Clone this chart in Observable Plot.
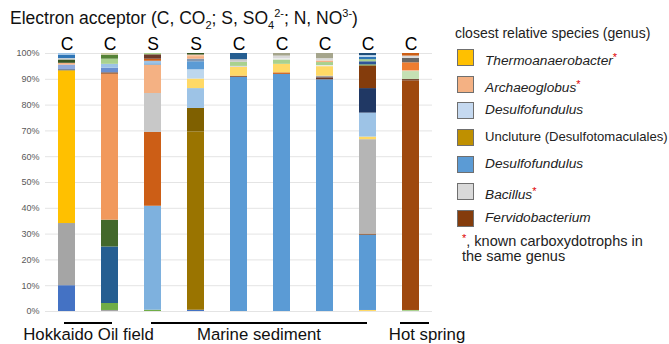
<!DOCTYPE html>
<html><head><meta charset="utf-8">
<script src="https://cdn.jsdelivr.net/npm/d3@7"></script>
<script src="https://cdn.jsdelivr.net/npm/@observablehq/plot@0.6"></script>
<style>
body{margin:0;background:#fff;font-family:"Liberation Sans",Arial,sans-serif;}
#wrap{position:relative;width:669px;height:344px;overflow:hidden;}
#title{position:absolute;left:10px;top:7px;font-size:17.5px;color:#111;white-space:nowrap;line-height:22px;}
#title sub,#title sup{font-size:11px;line-height:0;}
.lg{position:absolute;white-space:nowrap;color:#222;font-size:13.7px;line-height:16px;}
.sw{position:absolute;width:15px;height:15px;border:1px solid #6f6f6f;}
.star{color:#e00000;font-size:11px;vertical-align:4px;font-style:normal;}
</style></head><body>
<div id="wrap"><div id="chart"></div>
<div id="title">Electron acceptor (C, CO<sub>2</sub>; S, SO<sub>4</sub><sup>2-</sup>; N, NO<sup>3-</sup>)</div>
<div id="legend"></div></div>
<script>
// ---- data ----
const samples = ["s1","s2","s3","s4","s5","s6","s7","s8","s9"];
const acceptors = ["C","C","S","S","C","C","C","C","C"];
const bar1 = [["blue",10],["gray",24.1],["Thermoanaerobacter",59.2],["slate",0.4],["ltblue",1.8],["peach",0.7],["dkgreen",1.3],["ltgray",0.5],["blue2",1.3],["skyblue",0.7]];
const bar2 = [["gray",0.4],["green",2.7],["dkblue",21.9],["olivegreen",10.4],["Archaeoglobus",56.6],["brown",0.5],["midblue",1.8],["skyblue",1.5],["ltgreen",2],["green2",1.5],["tan",0.7]];
const bar3 = [["green",0.5],["Desulfofundulus (light)",40.3],["rust",28.6],["Bacillus",15.1],["peach",11],["Desulfofundulus",0.5],["skyblue",1],["rust",0.8],["dkbrown",1.7],["ltgreen",0.5]];
const bar4 = [["blue",0.5],["Uncluture (Desulfotomaculales)",69.1],["dkolive",9.1],["skyblue",7.7],["yellow",3.7],["paleblue",3.6],["Desulfofundulus",3.1],["grayblue",1],["peach",1],["ltpeach",0.6],["dkgreen",0.6]];
const bar5 = [["Desulfofundulus",90.8],["brown",0.4],["yellow",3.4],["ltgray",0.4],["ltgreen",1.6],["ltgray2",1],["dkblue",2.4]];
const bar6 = [["Desulfofundulus",91.9],["rust",0.6],["yellow",3.3],["ltgreen",1.7],["pale",0.5],["ltgray",1],["grayolive",1]];
const bar7 = [["Desulfofundulus",89.8],["dkbrown",0.8],["gray",0.6],["yellow",3.7],["pale",0.4],["ltgreen",1.2],["peach",0.6],["ltgray",0.9],["grayolive",2]];
const bar8 = [["yellow",0.4],["Desulfofundulus",29.2],["brown",0.4],["Bacillus (2)",36.6],["yellow",1],["skyblue",9.3],["navy",9.5],["brown",8.8],["green",0.4],["blue3",1.2],["ltgreen",0.8],["blue2",0.9],["paleblue",0.7],["dkblue2",0.8]];
const bar9 = [["ltgreen",0.4],["Fervidobacterium",89],["dkbrown",0.5],["palegreen",3.1],["ltpeach",0.3],["orange",3.1],["dkgray",1.7],["ltgray",0.9],["rust",1]];
const yTicks = [0,10,20,30,40,50,60,70,80,90,100];
const groupNames = ["Hokkaido Oil field","Marine sediment","Hot spring"];
const groupFirst = ["s1","s3","s9"];
const groupLast = ["s2","s8","s9"];
const legendNames = ["Thermoanaerobacter","Archaeoglobus","Desulfofundulus","Uncluture (Desulfotomaculales)","Desulfofundulus","Bacillus","Fervidobacterium"];
const legendItalic = [true,true,true,false,true,true,true];
const legendStar = [true,true,false,false,false,true,false];
const legendTitle = "closest relative species (genus)";
const noteLines = [", known carboxydotrophs in","the same genus"];

// ---- styles ----
const palette = {
  "Thermoanaerobacter":"#FFC000","Archaeoglobus":"#F1995D","Desulfofundulus (light)":"#7EB1DE",
  "Uncluture (Desulfotomaculales)":"#9A7400","Desulfofundulus":"#5B9BD5","Bacillus":"#C8C8C8",
  "Bacillus (2)":"#B5B5B5","Fervidobacterium":"#9E480E",
  blue:"#4472C4",gray:"#A5A5A5",slate:"#44546A",ltblue:"#8FAADC",peach:"#F4B183",dkgreen:"#375623",
  ltgray:"#D9D9D9",ltgray2:"#C9C9C9",blue2:"#2E75B6",skyblue:"#9DC3E6",green:"#70AD47",dkblue:"#255E91",
  olivegreen:"#43682B",brown:"#843C0C",midblue:"#6A8FD0",ltgreen:"#A9D18E",green2:"#548235",tan:"#C9C9A0",
  rust:"#CC5E16",dkbrown:"#6B3A2A",dkolive:"#7F6000",yellow:"#FFD966",paleblue:"#BDD7EE",grayblue:"#8497B0",
  ltpeach:"#F8CBAD",grayolive:"#A5A58C",pale:"#EDEDED",navy:"#203864",blue3:"#2F5597",dkblue2:"#1F4E79",
  palegreen:"#C5E0B4",orange:"#ED7D31",dkgray:"#666666"
};
const legendColors = ["#FFC000","#F4B183","#C5D9F0","#BF9000","#5B9BD5","#D9D9D9","#843C0C"];
const groupStyle = [
  {insetLeft:6, insetRight:6, labelAt:"s1", dx:21.5},
  {insetLeft:7, insetRight:9, labelAt:"s5", dx:20},
  {insetLeft:-2, insetRight:-10, labelAt:"s9", dx:16}
];

const bars = [bar1,bar2,bar3,bar4,bar5,bar6,bar7,bar8,bar9];
const segments = samples.flatMap((s,i) => bars[i].map(([taxon,value]) => ({sample:s, taxon, value})));
const groups = groupNames.map((name,i) => ({name, first:groupFirst[i], last:groupLast[i], y:0}));

const marks = [
  Plot.gridY(yTicks, {stroke:"#E4E4E4", strokeOpacity:1}),
  Plot.barY(segments, {x:"sample", y:"value", fill:"taxon"}),
  Plot.axisY(yTicks, {tickFormat:d => d + "%", tickSize:0, tickPadding:6, fontSize:9, color:"#595959", label:null}),
  Plot.axisX({anchor:"top", tickFormat:d => acceptors[samples.indexOf(d)], tickSize:0, tickPadding:4, fontSize:17.5, color:"#000", label:null})
];
groups.forEach((g,i) => {
  const st = groupStyle[i];
  marks.push(Plot.ruleY([g], {x1:"first", x2:"last", y:"y", dy:11.5, stroke:"#000", strokeWidth:2, insetLeft:st.insetLeft, insetRight:st.insetRight}));
  marks.push(Plot.text([g], {x:() => st.labelAt, y:"y", text:"name", dy:23, dx:st.dx, fontSize:16.8, fill:"#111"}));
});

const chart = Plot.plot({
  width:669, height:344,
  marginLeft:45, marginRight:237, marginTop:53, marginBottom:33,
  style:{fontFamily:"Liberation Sans, Arial, sans-serif", background:"#fff", overflow:"visible"},
  x:{domain:samples, paddingInner:0.6, paddingOuter:0.3, axis:null},
  y:{domain:[0,100], axis:null},
  color:{domain:Object.keys(palette), range:Object.values(palette)},
  marks
});
document.getElementById("chart").appendChild(chart);

// legend
const lg = document.getElementById("legend");
function add(html, cls, left, top, extra) {
  const d = document.createElement("div");
  d.className = cls; d.style.left = left + "px"; d.style.top = top + "px";
  if (html !== null) d.innerHTML = html;
  if (extra) Object.assign(d.style, extra);
  lg.appendChild(d); return d;
}
add(legendTitle, "lg", 455, 25, {fontSize:"14px"});
legendNames.forEach((n,i) => {
  const cy = 56.7 + i*26.8;
  add(null, "sw", 457, cy - 8, {background:legendColors[i]});
  const t = legendItalic[i] ? "<i>" + n + "</i>" : n;
  add(t + (legendStar[i] ? '<span class="star">*</span>' : ""), "lg", 485, cy - 8,
      legendItalic[i] ? null : {fontSize:"13.1px"});
});
add('<span class="star">*</span>' + noteLines[0], "lg", 462, 230, {fontSize:"14.5px", lineHeight:"16px"});
add(noteLines[1], "lg", 462, 247.5, {fontSize:"14.5px", lineHeight:"16px"});
</script></body></html>
